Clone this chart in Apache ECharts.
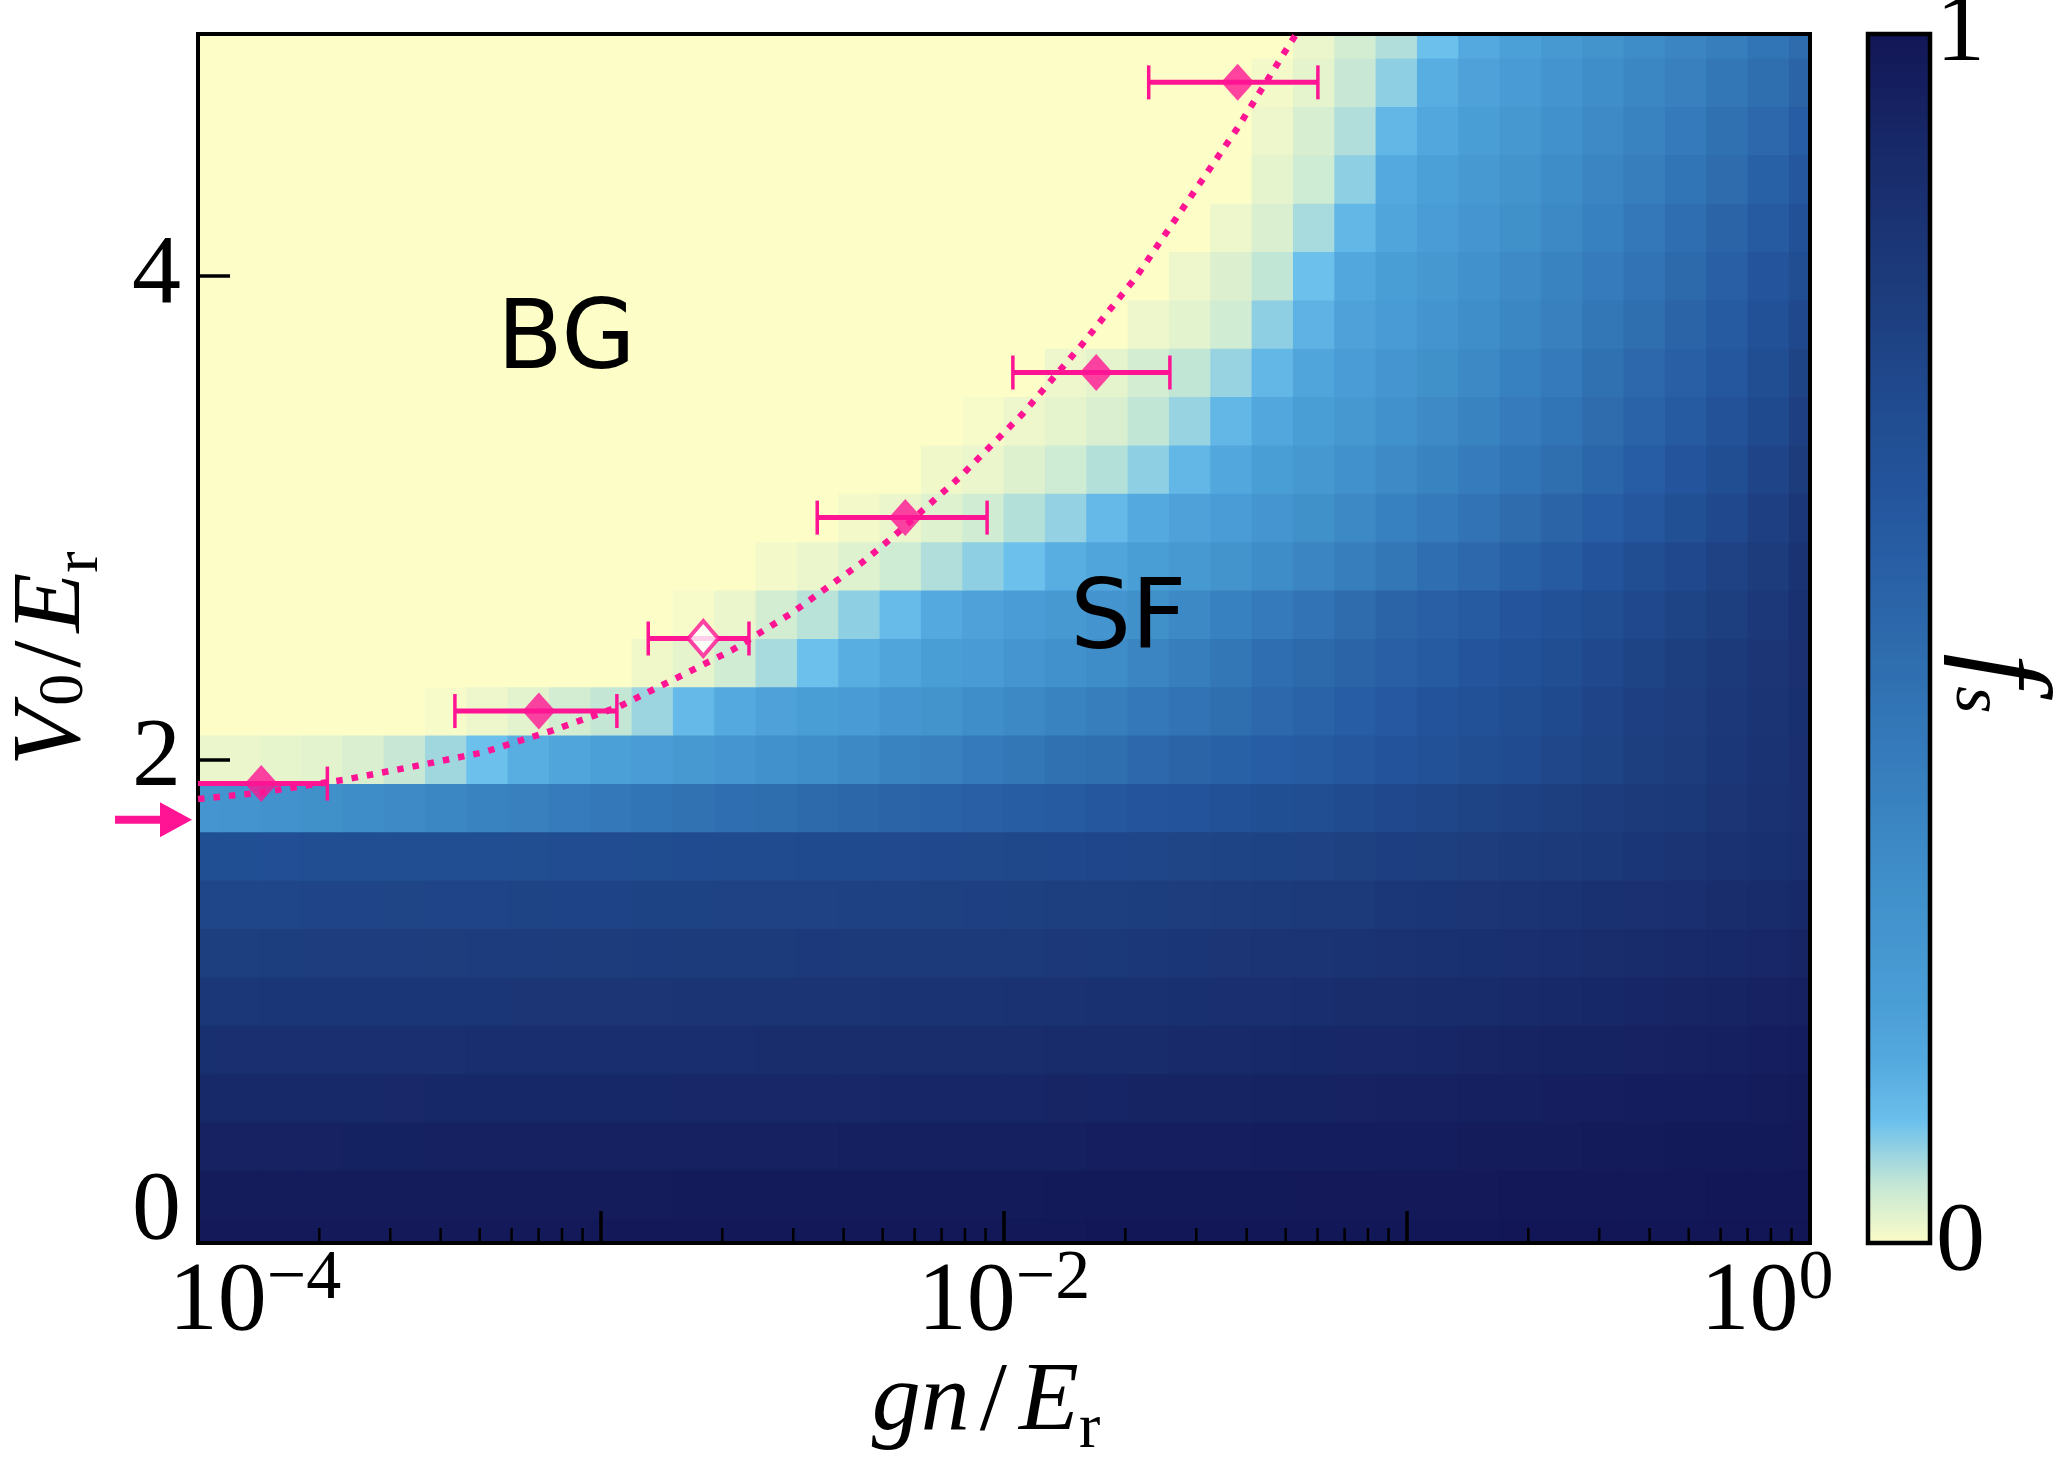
<!DOCTYPE html>
<html>
<head>
<meta charset="utf-8">
<script src="https://cdn.jsdelivr.net/npm/echarts@6/dist/echarts.min.js"></script>
<style>
html,body{margin:0;padding:0;background:#ffffff;}
#chart{width:2066px;height:1458px;}
</style>
</head>
<body>
<div id="chart"></div>
<script>
// ---- grid coordinates of the f_s map ----
const gnValues = [1.000e-4,1.266e-4,1.604e-4,2.031e-4,2.572e-4,3.257e-4,4.125e-4,5.223e-4,6.615e-4,8.377e-4,
  1.061e-3,1.343e-3,1.701e-3,2.154e-3,2.728e-3,3.455e-3,4.375e-3,5.541e-3,7.017e-3,8.886e-3,
  1.125e-2,1.425e-2,1.805e-2,2.285e-2,2.894e-2,3.665e-2,4.642e-2,5.878e-2,7.444e-2,9.427e-2,
  1.194e-1,1.512e-1,1.915e-1,2.424e-1,3.070e-1,3.888e-1,4.924e-1,6.236e-1,7.896e-1,1.000];
const v0Values = [0,0.2,0.4,0.6,0.8,1.0,1.2,1.4,1.6,1.8,2.0,2.2,2.4,2.6,2.8,3.0,3.2,3.4,3.6,3.8,4.0,4.2,4.4,4.6,4.8,5.0];

// ---- superfluid fraction f_s, one row per V0 value (rows bottom -> top) ----
const fsGrid = [
 [0.985,0.985,0.985,0.985,0.986,0.986,0.986,0.987,0.987,0.987,0.988,0.988,0.988,0.989,0.989,0.99,0.99,0.99,0.991,0.991,0.992,0.992,0.993,0.993,0.994,0.994,0.995,0.995,0.996,0.996,0.997,0.997,0.998,0.998,0.998,0.999,0.999,0.999,1,1],
 [0.968,0.968,0.969,0.969,0.97,0.97,0.97,0.971,0.971,0.972,0.972,0.972,0.973,0.973,0.974,0.974,0.975,0.975,0.976,0.976,0.977,0.978,0.978,0.979,0.98,0.981,0.982,0.983,0.984,0.985,0.986,0.987,0.988,0.989,0.99,0.991,0.992,0.993,0.994,0.995],
 [0.94,0.94,0.941,0.941,0.942,0.942,0.943,0.943,0.944,0.944,0.945,0.945,0.946,0.946,0.947,0.947,0.948,0.949,0.949,0.95,0.951,0.952,0.953,0.954,0.956,0.957,0.959,0.96,0.962,0.964,0.966,0.968,0.97,0.972,0.974,0.976,0.978,0.98,0.982,0.985],
 [0.905,0.905,0.906,0.907,0.907,0.908,0.909,0.909,0.91,0.911,0.912,0.912,0.913,0.914,0.915,0.916,0.917,0.918,0.919,0.92,0.922,0.924,0.926,0.928,0.93,0.932,0.935,0.937,0.94,0.943,0.946,0.949,0.952,0.955,0.958,0.961,0.964,0.967,0.971,0.975],
 [0.865,0.866,0.867,0.868,0.869,0.87,0.871,0.872,0.873,0.874,0.875,0.876,0.877,0.878,0.879,0.88,0.881,0.882,0.883,0.885,0.887,0.89,0.893,0.896,0.899,0.902,0.906,0.909,0.913,0.917,0.921,0.925,0.929,0.933,0.937,0.941,0.945,0.95,0.955,0.96],
 [0.82,0.821,0.822,0.823,0.824,0.826,0.827,0.828,0.829,0.831,0.832,0.833,0.835,0.836,0.837,0.839,0.84,0.842,0.843,0.845,0.848,0.851,0.855,0.859,0.863,0.867,0.871,0.875,0.88,0.885,0.89,0.895,0.9,0.906,0.912,0.918,0.924,0.931,0.938,0.945],
 [0.775,0.776,0.778,0.779,0.781,0.782,0.784,0.785,0.787,0.788,0.79,0.791,0.793,0.794,0.796,0.797,0.799,0.8,0.802,0.804,0.807,0.811,0.815,0.82,0.825,0.83,0.835,0.84,0.846,0.852,0.858,0.864,0.87,0.877,0.884,0.891,0.899,0.907,0.915,0.925],
 [0.725,0.727,0.728,0.73,0.732,0.733,0.735,0.737,0.739,0.741,0.742,0.744,0.746,0.748,0.75,0.752,0.754,0.756,0.758,0.76,0.764,0.768,0.773,0.778,0.784,0.79,0.796,0.802,0.809,0.816,0.823,0.83,0.838,0.846,0.854,0.862,0.871,0.88,0.89,0.905],
 [0.665,0.667,0.669,0.671,0.673,0.675,0.677,0.679,0.681,0.683,0.686,0.688,0.69,0.693,0.695,0.698,0.7,0.703,0.706,0.709,0.713,0.717,0.722,0.727,0.733,0.739,0.745,0.752,0.759,0.767,0.775,0.784,0.793,0.803,0.813,0.824,0.836,0.849,0.863,0.878],
 [0.25,0.26,0.275,0.29,0.305,0.32,0.34,0.36,0.38,0.4,0.42,0.44,0.455,0.47,0.485,0.5,0.515,0.53,0.545,0.56,0.575,0.59,0.605,0.62,0.635,0.65,0.665,0.68,0.695,0.71,0.725,0.74,0.755,0.77,0.785,0.8,0.815,0.83,0.85,0.87],
 [0.015,0.015,0.018,0.022,0.03,0.045,0.07,0.1,0.14,0.17,0.19,0.21,0.23,0.25,0.28,0.3,0.33,0.36,0.38,0.41,0.43,0.46,0.48,0.51,0.53,0.55,0.57,0.59,0.61,0.63,0.65,0.67,0.69,0.72,0.74,0.77,0.79,0.82,0.845,0.87],
 [0,0,0,0,0,0,0.005,0.012,0.022,0.035,0.048,0.072,0.115,0.15,0.18,0.2,0.22,0.25,0.27,0.3,0.33,0.36,0.39,0.42,0.45,0.48,0.51,0.54,0.57,0.6,0.63,0.65,0.68,0.7,0.73,0.76,0.78,0.81,0.835,0.865],
 [0,0,0,0,0,0,0,0,0,0,0,0.01,0.02,0.038,0.065,0.1,0.14,0.17,0.2,0.22,0.25,0.28,0.31,0.35,0.39,0.43,0.47,0.5,0.53,0.56,0.59,0.62,0.65,0.68,0.71,0.74,0.77,0.8,0.83,0.86],
 [0,0,0,0,0,0,0,0,0,0,0,0,0.005,0.015,0.035,0.055,0.08,0.11,0.15,0.18,0.21,0.23,0.26,0.29,0.33,0.37,0.41,0.45,0.49,0.53,0.56,0.59,0.62,0.65,0.68,0.71,0.74,0.77,0.81,0.855],
 [0,0,0,0,0,0,0,0,0,0,0,0,0,0,0.008,0.015,0.025,0.04,0.06,0.08,0.1,0.14,0.17,0.2,0.23,0.27,0.31,0.35,0.39,0.43,0.47,0.51,0.55,0.59,0.63,0.67,0.71,0.75,0.79,0.845],
 [0,0,0,0,0,0,0,0,0,0,0,0,0,0,0,0,0.008,0.015,0.025,0.038,0.058,0.077,0.115,0.15,0.18,0.21,0.25,0.29,0.33,0.37,0.41,0.45,0.49,0.53,0.57,0.61,0.66,0.71,0.76,0.82],
 [0,0,0,0,0,0,0,0,0,0,0,0,0,0,0,0,0,0,0.01,0.015,0.027,0.04,0.058,0.08,0.12,0.16,0.2,0.24,0.28,0.32,0.36,0.4,0.44,0.48,0.52,0.57,0.62,0.67,0.73,0.79],
 [0,0,0,0,0,0,0,0,0,0,0,0,0,0,0,0,0,0,0,0.005,0.012,0.02,0.03,0.05,0.075,0.12,0.16,0.2,0.24,0.28,0.32,0.36,0.4,0.44,0.49,0.54,0.59,0.64,0.7,0.76],
 [0,0,0,0,0,0,0,0,0,0,0,0,0,0,0,0,0,0,0,0,0,0.012,0.02,0.035,0.05,0.075,0.12,0.17,0.21,0.25,0.29,0.33,0.37,0.41,0.46,0.51,0.56,0.61,0.67,0.74],
 [0,0,0,0,0,0,0,0,0,0,0,0,0,0,0,0,0,0,0,0,0,0,0,0.012,0.022,0.038,0.08,0.13,0.18,0.22,0.26,0.3,0.34,0.38,0.43,0.48,0.53,0.59,0.65,0.71],
 [0,0,0,0,0,0,0,0,0,0,0,0,0,0,0,0,0,0,0,0,0,0,0,0,0.012,0.028,0.05,0.1,0.16,0.2,0.24,0.28,0.32,0.36,0.4,0.45,0.5,0.56,0.62,0.68],
 [0,0,0,0,0,0,0,0,0,0,0,0,0,0,0,0,0,0,0,0,0,0,0,0,0,0.012,0.03,0.065,0.12,0.17,0.21,0.25,0.29,0.33,0.37,0.42,0.47,0.53,0.59,0.65],
 [0,0,0,0,0,0,0,0,0,0,0,0,0,0,0,0,0,0,0,0,0,0,0,0,0,0,0.02,0.04,0.08,0.15,0.19,0.23,0.27,0.31,0.35,0.39,0.44,0.49,0.55,0.61],
 [0,0,0,0,0,0,0,0,0,0,0,0,0,0,0,0,0,0,0,0,0,0,0,0,0,0,0.012,0.032,0.06,0.12,0.16,0.2,0.24,0.28,0.32,0.36,0.41,0.46,0.51,0.57],
 [0,0,0,0,0,0,0,0,0,0,0,0,0,0,0,0,0,0,0,0,0,0,0,0,0,0,0.008,0.02,0.045,0.08,0.14,0.18,0.22,0.26,0.3,0.34,0.38,0.43,0.48,0.53],
 [0,0,0,0,0,0,0,0,0,0,0,0,0,0,0,0,0,0,0,0,0,0,0,0,0,0,0,0.015,0.035,0.06,0.1,0.15,0.19,0.23,0.27,0.31,0.35,0.39,0.44,0.49]
];

// ---- measured transition points (diamonds with horizontal error bars) ----
const pointGn     = [1.435e-4, 7.01e-4, 1.794e-3, 5.69e-3, 1.694e-2, 3.80e-2];
const pointV0     = [1.9, 2.2, 2.5, 3.0, 3.6, 4.8];
const pointGnLow  = [9.84e-5, 4.34e-4, 1.310e-3, 3.44e-3, 1.052e-2, 2.286e-2];
const pointGnHigh = [2.094e-4, 1.095e-3, 2.329e-3, 9.08e-3, 2.58e-2, 6.01e-2];
const pointFilled = [true, true, false, true, true, true];

// ---- dotted fit curve ----
const fitGn = [1.0e-4,1.40e-4,2.31e-4,3.43e-4,5.10e-4,7.59e-4,1.111e-3,1.580e-3,2.12e-3,2.972e-3,4.48e-3,5.25e-3,7.72e-3,1.112e-2,1.551e-2,2.138e-2,2.850e-2,3.80e-2,5.01e-2,5.55e-2];
const fitV0 = [1.836,1.861,1.916,1.971,2.029,2.120,2.219,2.346,2.453,2.605,2.819,2.914,3.163,3.429,3.710,4.000,4.306,4.612,4.934,5.05];

// ---- clean-lattice critical value marked by the arrow ----
const arrowGn = [1e-4];
const arrowV0 = [1.75];

// ---- region labels ----
const regionText = ['BG', 'SF'];
const regionGn   = [8.2e-4, 2.035e-2];
const regionV0   = [3.72, 2.565];

// ---- axis ticks ----
const minorTickGn = [2e-4,3e-4,4e-4,5e-4,6e-4,7e-4,8e-4,9e-4,2e-3,3e-3,4e-3,5e-3,6e-3,7e-3,8e-3,9e-3,
  2e-2,3e-2,4e-2,5e-2,6e-2,7e-2,8e-2,9e-2,2e-1,3e-1,4e-1,5e-1,6e-1,7e-1,8e-1,9e-1];

// ---- colour map (evenly spaced from f_s = 0 to 1) ----
const cmapColors = ['#fcfdc7','#c2e6d6','#6cc0ec','#54a9de','#4a9ed6','#4596d0','#3f8ec9','#3a85c2','#367cbc','#3173b4',
  '#2d6aac','#2961a6','#2558a0','#225197','#204a8e','#1e4284','#1c3a7a','#1a3272','#182a6a','#152060','#121656'];

const PINK = '#ff1493';
const SERIF = 'Liberation Serif';

const heatData = [];
for (let r = 0; r < v0Values.length; r++) {
  for (let k = 0; k < gnValues.length; k++) {
    heatData.push([gnValues[k], v0Values[r], fsGrid[r][k], k, r]);
  }
}

function cellRender(params, api) {
  const k = api.value(3), r = api.value(4);
  const c = api.coord([gnValues[k], v0Values[r]]);
  const px = k > 0 ? api.coord([gnValues[k - 1], v0Values[r]])[0] : null;
  const nx = k < gnValues.length - 1 ? api.coord([gnValues[k + 1], v0Values[r]])[0] : null;
  let x0 = px !== null ? (px + c[0]) / 2 : c[0] - (nx - c[0]) / 2;
  let x1 = nx !== null ? (nx + c[0]) / 2 : c[0] + (c[0] - px) / 2;
  const py = r > 0 ? api.coord([gnValues[k], v0Values[r - 1]])[1] : null;
  const ny = r < v0Values.length - 1 ? api.coord([gnValues[k], v0Values[r + 1]])[1] : null;
  let yb = py !== null ? (py + c[1]) / 2 : c[1] + (c[1] - ny) / 2;
  let yt = ny !== null ? (ny + c[1]) / 2 : c[1] - (py - c[1]) / 2;
  const cs = params.coordSys;
  x0 = Math.max(x0, cs.x); x1 = Math.min(x1, cs.x + cs.width);
  yt = Math.max(yt, cs.y); yb = Math.min(yb, cs.y + cs.height);
  if (x1 <= x0 || yb <= yt) return null;
  return { type: 'rect', shape: { x: x0 - 0.4, y: yt - 0.4, width: x1 - x0 + 0.8, height: yb - yt + 0.8 },
           style: { fill: api.visual('color') } };
}

function minorTickRender(params, api) {
  const p = api.coord([api.value(0), 0]);
  return { type: 'line', shape: { x1: p[0], y1: p[1], x2: p[0], y2: p[1] - 15 },
           style: { stroke: '#000', lineWidth: 2.5 } };
}

function errRender(params, api) {
  const y = api.value(1);
  const c = api.coord([api.value(0), y]);
  const lo = api.coord([api.value(2), y]);
  const hi = api.coord([api.value(3), y]);
  const cs = params.coordSys;
  const left = Math.max(lo[0], cs.x), right = Math.min(hi[0], cs.x + cs.width);
  const ch = [{ type: 'line', shape: { x1: left, y1: c[1], x2: right, y2: c[1] }, style: { stroke: PINK, lineWidth: 5 } }];
  if (lo[0] >= cs.x) ch.push({ type: 'line', shape: { x1: lo[0], y1: c[1] - 17, x2: lo[0], y2: c[1] + 17 }, style: { stroke: PINK, lineWidth: 3.5 } });
  if (hi[0] <= cs.x + cs.width) ch.push({ type: 'line', shape: { x1: hi[0], y1: c[1] - 17, x2: hi[0], y2: c[1] + 17 }, style: { stroke: PINK, lineWidth: 3.5 } });
  return { type: 'group', children: ch };
}

function arrowRender(params, api) {
  const p = api.coord([api.value(0), api.value(1)]);
  return { type: 'group', children: [
    { type: 'rect', shape: { x: p[0] - 83, y: p[1] - 4, width: 47, height: 8 }, style: { fill: PINK } },
    { type: 'polygon', shape: { points: [[p[0] - 38, p[1] - 17.5], [p[0] - 6, p[1]], [p[0] - 38, p[1] + 17.5]] }, style: { fill: PINK } }
  ] };
}

function regionRender(params, api) {
  const p = api.coord([api.value(0), api.value(1)]);
  return { type: 'text', style: { text: regionText[params.dataIndex], x: p[0], y: p[1], align: 'center', verticalAlign: 'middle',
           fontFamily: 'DejaVu Sans', fontSize: 96, fill: '#000' } };
}

const xLabelRich = {
  b:  { fontFamily: SERIF, fontSize: 98, color: '#000' },
  bl: { fontFamily: SERIF, fontSize: 98, color: '#000', padding: [0, 0, 0, 114] },
  s:  { fontFamily: SERIF, fontSize: 70, color: '#000', padding: [0, 0, 47, 0] },
  sr: { fontFamily: SERIF, fontSize: 70, color: '#000', padding: [0, 86, 47, 0] }
};
function xLabelFormatter(v) {
  const e = Math.round(Math.log10(v));
  if (Math.abs(e) % 2 === 1) return '';
  const ex = e < 0 ? '\u2212' + (-e) : String(e);
  if (e === -4) return '{bl|10}{s|' + ex + '}';
  if (e === 0) return '{b|10}{sr|' + ex + '}';
  return '{b|10}{s|' + ex + '}';
}

const textBase = { fontFamily: SERIF, color: '#000' };
const xNameRich = {
  i:  Object.assign({ fontStyle: 'italic', fontSize: 98 }, textBase),
  sl: Object.assign({ fontSize: 98, padding: [0, 12, 0, 10] }, textBase),
  r:  Object.assign({ fontSize: 64, padding: [54, 36, 0, 0] }, textBase)
};
const yNameRich = {
  i:  Object.assign({ fontStyle: 'italic', fontSize: 98 }, textBase),
  sl: Object.assign({ fontSize: 98, padding: [0, 8, 0, 6] }, textBase),
  z0: Object.assign({ fontSize: 64, padding: [24, 0, 0, 0] }, textBase),
  r:  Object.assign({ fontSize: 64, padding: [54, 40, 0, 0] }, textBase)
};
const cbNameRich = {
  f:  Object.assign({ fontStyle: 'italic', fontSize: 118, padding: [0, 0, 0, 90] }, textBase),
  s:  Object.assign({ fontStyle: 'italic', fontSize: 70, padding: [50, 0, 0, 0] }, textBase)
};

const chart = echarts.init(document.getElementById('chart'), null, { renderer: 'canvas', width: 2066, height: 1458 });

const option = {
  animation: false,
  backgroundColor: '#ffffff',
  grid: [
    { left: 198, top: 34, width: 1612, height: 1209, show: true, borderColor: '#000', borderWidth: 4,
      backgroundColor: 'transparent', z: 10, containLabel: false, outerBoundsMode: 'none' },
    { left: 1868, top: 34, width: 62, height: 1209, show: true, borderColor: '#000', borderWidth: 4.5,
      backgroundColor: 'transparent', z: 10, containLabel: false, outerBoundsMode: 'none' }
  ],
  xAxis: [
    { gridIndex: 0, type: 'log', logBase: 10, min: 1e-4, max: 1, z: 11,
      axisLine: { show: true, onZero: false, lineStyle: { color: '#000', width: 4 } },
      axisTick: { show: true, inside: true, length: 32, lineStyle: { color: '#000', width: 3.5 } },
      minorTick: { show: false }, splitLine: { show: false }, minorSplitLine: { show: false },
      axisLabel: { show: true, margin: 2, showMinLabel: true, showMaxLabel: true, hideOverlap: false,
                   formatter: xLabelFormatter, rich: xLabelRich },
      name: '{i|gn}{sl|/}{i|E}{r|r}', nameLocation: 'middle', nameGap: 101, nameMoveOverlap: false,
      nameTextStyle: { rich: xNameRich } },
    { gridIndex: 1, type: 'value', min: 0, max: 1, show: false }
  ],
  yAxis: [
    { gridIndex: 0, type: 'value', min: 0, max: 5, interval: 2, z: 11,
      axisLine: { show: true, onZero: false, lineStyle: { color: '#000', width: 4 } },
      axisTick: { show: true, inside: true, length: 32, lineStyle: { color: '#000', width: 3.5 } },
      splitLine: { show: false },
      axisLabel: { show: true, margin: 17, showMinLabel: true, showMaxLabel: true,
                   formatter: function (v) { return v === 0 ? '{z|0}' : (v % 2 === 0 ? '{y|' + v + '}' : ''); },
                   rich: { y: { fontFamily: SERIF, fontSize: 98, color: '#000' },
                           z: { fontFamily: SERIF, fontSize: 98, color: '#000', padding: [0, 0, 62, 0] } } },
      name: '{i|V}{z0|0}{sl|/}{i|E}{r|r}', nameLocation: 'middle', nameRotate: 90, nameGap: 86, nameMoveOverlap: false,
      nameTextStyle: { rich: yNameRich } },
    { gridIndex: 1, type: 'value', min: 0, max: 1, interval: 1, position: 'right',
      axisLine: { show: false }, axisTick: { show: false }, splitLine: { show: false },
      axisLabel: { show: true, margin: 6, fontFamily: SERIF, fontSize: 98, color: '#000' },
      name: '{f|f}{s|s}', nameLocation: 'middle', nameRotate: -90, nameGap: 10, nameMoveOverlap: false,
      nameTextStyle: { rich: cbNameRich } }
  ],
  visualMap: [{
    type: 'continuous', seriesIndex: 0, dimension: 2, min: 0, max: 1, show: true, calculable: false,
    orient: 'vertical', left: 1868, top: 34, itemWidth: 62, itemHeight: 1209, padding: 0, text: null,
    hoverLink: false, inRange: { color: cmapColors }, z: 4
  }],
  series: [
    { type: 'custom', name: 'fs', xAxisIndex: 0, yAxisIndex: 0, renderItem: cellRender, data: heatData,
      encode: { x: 0, y: 1 }, dimensions: ['gn', 'V0', 'fs', 'col', 'row'], z: 2, silent: true },
    { type: 'custom', name: 'minorTicks', xAxisIndex: 0, yAxisIndex: 0, renderItem: minorTickRender,
      data: minorTickGn.map(function (g) { return [g, 0]; }), encode: { x: 0, y: 1 }, z: 12, silent: true },
    { type: 'line', name: 'fit', xAxisIndex: 0, yAxisIndex: 0, showSymbol: false, symbol: 'none', clip: true,
      data: fitGn.map(function (g, i) { return [g, fitV0[i]]; }),
      lineStyle: { color: PINK, width: 6.5, type: [6.5, 9], cap: 'butt' }, z: 19, silent: true },
    { type: 'custom', name: 'errorbars', xAxisIndex: 0, yAxisIndex: 0, renderItem: errRender,
      data: pointGn.map(function (g, i) { return [g, pointV0[i], pointGnLow[i], pointGnHigh[i]]; }),
      encode: { x: 0, y: 1 }, z: 20, silent: true },
    { type: 'scatter', name: 'filled', xAxisIndex: 0, yAxisIndex: 0, symbol: 'diamond', symbolSize: [33, 37],
      data: pointGn.map(function (g, i) { return [g, pointV0[i]]; }).filter(function (d, i) { return pointFilled[i]; }),
      itemStyle: { color: PINK }, z: 21, silent: true },
    { type: 'scatter', name: 'open', xAxisIndex: 0, yAxisIndex: 0, symbol: 'diamond', symbolSize: [30, 35],
      data: pointGn.map(function (g, i) { return [g, pointV0[i]]; }).filter(function (d, i) { return !pointFilled[i]; }),
      itemStyle: { color: '#ffffff', borderColor: PINK, borderWidth: 4 }, z: 21, silent: true },
    { type: 'custom', name: 'arrow', xAxisIndex: 0, yAxisIndex: 0, renderItem: arrowRender, clip: false,
      data: arrowGn.map(function (g, i) { return [g, arrowV0[i]]; }), encode: { x: 0, y: 1 }, z: 22, silent: true },
    { type: 'custom', name: 'regions', xAxisIndex: 0, yAxisIndex: 0, renderItem: regionRender,
      data: regionGn.map(function (g, i) { return [g, regionV0[i]]; }), encode: { x: 0, y: 1 }, z: 23, silent: true }
  ]
};
chart.setOption(option);
</script>
</body>
</html>
